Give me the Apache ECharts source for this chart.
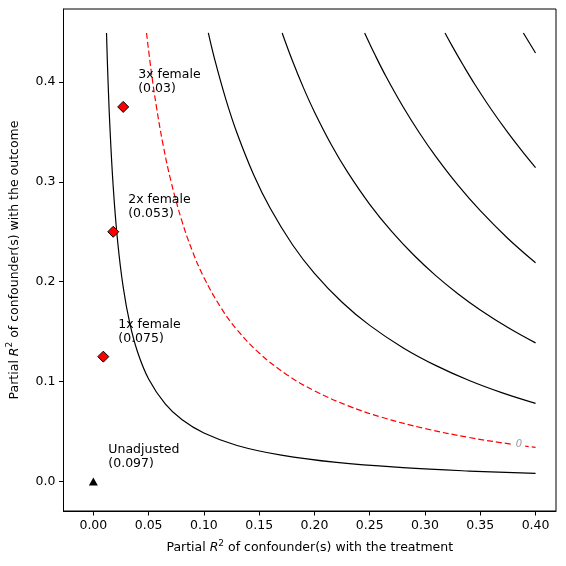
<!DOCTYPE html>
<html><head><meta charset="utf-8">
<script src="https://cdn.jsdelivr.net/npm/echarts@6/dist/echarts.min.js"></script>
<style>html,body{margin:0;padding:0;background:#fff}#c{width:566px;height:566px}</style>
</head><body><div id="c"></div>
<script>
// Tick values
const xTicks = [0, 0.05, 0.1, 0.15, 0.2, 0.25, 0.3, 0.35, 0.4];
const yTicks = [0, 0.1, 0.2, 0.3, 0.4];

// Contour curves (x = partial R2 with treatment, y = partial R2 with outcome)
const curve005_x = [0.0119, 0.013, 0.015, 0.018, 0.022, 0.027, 0.033, 0.04, 0.05, 0.065, 0.08, 0.1, 0.13, 0.17, 0.22, 0.28, 0.34, 0.4];
const curve005_y = [0.449, 0.4100, 0.3546, 0.2946, 0.2400, 0.1946, 0.1582, 0.1296, 0.1026, 0.0777, 0.0621, 0.0486, 0.0361, 0.0264, 0.0191, 0.0139, 0.0105, 0.0081];

const curve0_x = [0.0481, 0.052, 0.057, 0.063, 0.07, 0.08, 0.09, 0.1, 0.115, 0.13, 0.15, 0.175, 0.2, 0.23, 0.26, 0.3, 0.34, 0.37, 0.4];
const curve0_y = [0.449, 0.4138, 0.3755, 0.3376, 0.3016, 0.2611, 0.2295, 0.2043, 0.1747, 0.1519, 0.1286, 0.1070, 0.0908, 0.0760, 0.0646, 0.0530, 0.0441, 0.0387, 0.0341];

const curveM005_x = [0.104, 0.11, 0.12, 0.13, 0.145, 0.16, 0.18, 0.2, 0.225, 0.25, 0.28, 0.31, 0.34, 0.37, 0.4];
const curveM005_y = [0.449, 0.4215, 0.3821, 0.3487, 0.3072, 0.2735, 0.2373, 0.2084, 0.1795, 0.1563, 0.1340, 0.1160, 0.1011, 0.0887, 0.0782];

const curveM010_x = [0.1708, 0.18, 0.19, 0.2, 0.215, 0.23, 0.25, 0.27, 0.29, 0.31, 0.33, 0.35, 0.375, 0.4];
const curveM010_y = [0.449, 0.4214, 0.3943, 0.3700, 0.3377, 0.3097, 0.2775, 0.2501, 0.2265, 0.2059, 0.1878, 0.1718, 0.1542, 0.1388];

const curveM015_x = [0.2454, 0.255, 0.265, 0.28, 0.295, 0.31, 0.33, 0.35, 0.375, 0.4];
const curveM015_y = [0.449, 0.4266, 0.4049, 0.3754, 0.3489, 0.3250, 0.2964, 0.2711, 0.2433, 0.2190];

const curveM020_x = [0.3181, 0.325, 0.335, 0.345, 0.36, 0.375, 0.39, 0.4];
const curveM020_y = [0.449, 0.4351, 0.4159, 0.3977, 0.3724, 0.3492, 0.3277, 0.3143];

const curveM025_x = [0.389, 0.3945, 0.4];
const curveM025_y = [0.449, 0.439, 0.429];

// Benchmark points
const pointNames = ['Unadjusted', '1x female', '2x female', '3x female'];
const pointEstimates = ['0.097', '0.075', '0.053', '0.03'];
const pointX = [0, 0.009, 0.018, 0.027];
const pointY = [0, 0.125, 0.25, 0.375];

// Contour label
const zeroLabelPos = [0.385, 0.0368];

const FONT = 'DejaVu Sans';
const pairs = (xs, ys) => xs.map((x, i) => [x, ys[i]]);

const blackCurves = [
  [curve005_x, curve005_y], [curveM005_x, curveM005_y], [curveM010_x, curveM010_y],
  [curveM015_x, curveM015_y], [curveM020_x, curveM020_y], [curveM025_x, curveM025_y]
];

const series = [];
blackCurves.forEach(c => {
  series.push({
    type: 'line', data: pairs(c[0], c[1]), showSymbol: false, smooth: 0.4,
    lineStyle: {color: '#000', width: 1.2}, silent: true, z: 2
  });
});
series.push({
  type: 'line', data: pairs(curve0_x, curve0_y), showSymbol: false, smooth: 0.4,
  lineStyle: {color: '#ff0000', width: 1.2, type: [6, 3]}, silent: true, z: 2
});
series.push({
  type: 'scatter', data: [zeroLabelPos], symbolSize: 0, silent: true, z: 3,
  itemStyle: {opacity: 1},
  label: {show: true, position: 'inside', formatter: '0', color: '#999', fontStyle: 'italic',
    fontFamily: FONT, fontSize: 10, backgroundColor: '#fff', padding: [0, 3]}
});
const labelFor = i => pointNames[i] + '\n(' + pointEstimates[i] + ')';
series.push({
  type: 'scatter', symbol: 'triangle', symbolSize: [9, 8], z: 5, silent: true,
  itemStyle: {color: '#000', opacity: 1},
  data: [[pointX[0], pointY[0]]],
  label: {show: true, position: 'inside', align: 'left', verticalAlign: 'middle', offset: [15, -25],
    formatter: () => labelFor(0), color: '#000', fontFamily: FONT, fontSize: 12.5, lineHeight: 14.5}
});
series.push({
  type: 'scatter', symbol: 'diamond', symbolSize: [11, 11], z: 5, silent: true,
  itemStyle: {color: '#ff0000', borderColor: '#000', borderWidth: 1, opacity: 1},
  data: [1, 2, 3].map(i => [pointX[i], pointY[i]]),
  label: {show: true, position: 'inside', align: 'left', verticalAlign: 'middle', offset: [15, -25],
    formatter: p => labelFor(p.dataIndex + 1), color: '#000', fontFamily: FONT, fontSize: 12.5, lineHeight: 14.5}
});

const rich = {
  n: {fontFamily: FONT, fontSize: 12.5, color: '#000', lineHeight: 18},
  i: {fontFamily: FONT, fontSize: 12.5, color: '#000', fontStyle: 'italic', lineHeight: 18},
  s: {fontFamily: FONT, fontSize: 9, color: '#000', lineHeight: 10, verticalAlign: 'top'}
};

const chart = echarts.init(document.getElementById('c'), null, {renderer: 'canvas'});
chart.setOption({
  animation: false,
  backgroundColor: '#fff',
  grid: {left: 63.5, right: 10, top: 9, bottom: 55, containLabel: false, outerBoundsMode: 'none',
    show: true, borderColor: '#000', borderWidth: 1, backgroundColor: 'transparent'},
  xAxis: {
    type: 'value', min: -0.027, max: 0.4185,
    name: '{n|Partial }{i|R}{s|2}{n| of confounder(s) with the treatment}',
    nameLocation: 'middle', nameGap: 28, nameTextStyle: {rich},
    axisLine: {show: true, onZero: false, lineStyle: {color: '#000', width: 1}},
    axisTick: {show: true, length: 4.5, lineStyle: {color: '#000'}, customValues: xTicks},
    axisLabel: {customValues: xTicks, formatter: v => v.toFixed(2), color: '#000', fontFamily: FONT, fontSize: 12.5, margin: 8},
    splitLine: {show: false}
  },
  yAxis: {
    type: 'value', min: -0.0295, max: 0.473,
    name: '{n|Partial }{i|R}{s|2}{n| of confounder(s) with the outcome}',
    nameLocation: 'middle', nameGap: 40, nameRotate: 90, nameTextStyle: {rich},
    axisLine: {show: true, onZero: false, lineStyle: {color: '#000', width: 1}},
    axisTick: {show: true, length: 4.5, lineStyle: {color: '#000'}, customValues: yTicks},
    axisLabel: {customValues: yTicks, formatter: v => v.toFixed(1), color: '#000', fontFamily: FONT, fontSize: 12.5, margin: 8},
    splitLine: {show: false}
  },
  series
});
</script>
</body></html>
